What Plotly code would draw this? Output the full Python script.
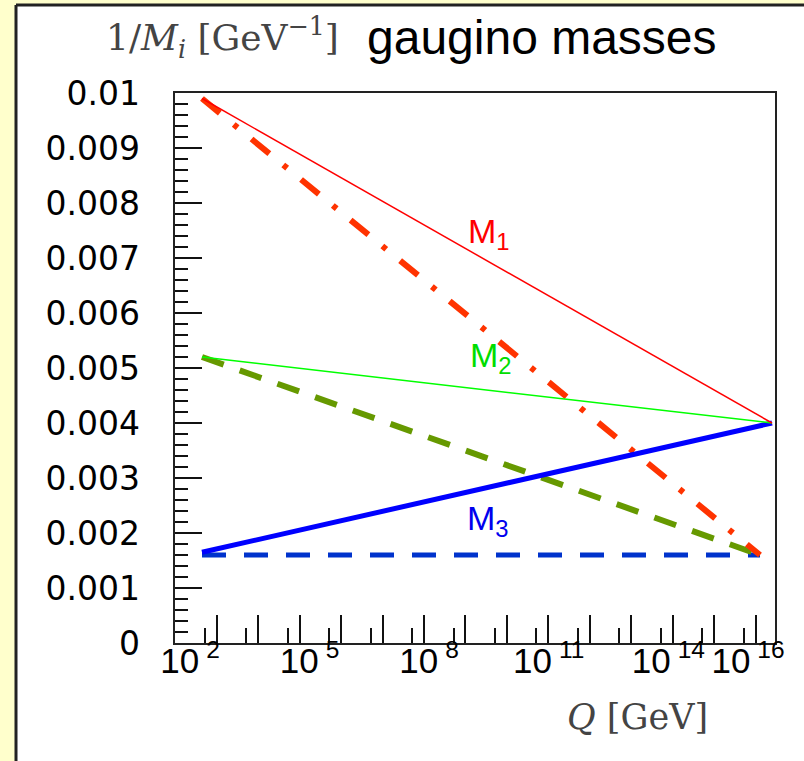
import plotly.graph_objects as go

# ---------------- data ----------------
# scale Q [GeV]
Q_low = 1e2
Q_gut = 2e16          # end of solid (universal) lines
Q_high = 1e16         # end of dashed lines

# solid lines: 1/M_i at low scale and at GUT scale
inv_M1_solid = [0.0099, 0.0040]
inv_M2_solid = [0.0052, 0.0040]
inv_M3_solid = [0.00165, 0.0040]

# dashed lines: 1/M_i at low scale and at 10^16
inv_M1_dash = [0.0099, 0.0016]
inv_M2_dash = [0.0052, 0.0016]
inv_M3_dash = [0.0016, 0.0016]

y_tick_vals = [0, 0.001, 0.002, 0.003, 0.004, 0.005, 0.006, 0.007, 0.008, 0.009, 0.01]
y_tick_text = ["0", "0.001", "0.002", "0.003", "0.004", "0.005",
               "0.006", "0.007", "0.008", "0.009", "0.01"]
x_label_exps = [2, 5, 8, 11, 14, 16]

# tick marks along the Q axis (log10 Q)
x_major_marks = [2.37 + 1.04 * k for k in range(14)]
x_minor_marks = [2.07 + 1.04 * k for k in range(14)]

x_solid = [Q_low, Q_gut]
x_dash = [Q_low, Q_high]

fig = go.Figure()

# dashed / dash-dot
fig.add_trace(go.Scatter(x=x_dash, y=inv_M3_dash, mode="lines",
                         line=dict(color="#0033CC", width=5, dash="24px,18px"),
                         showlegend=False))
fig.add_trace(go.Scatter(x=x_dash, y=inv_M2_dash, mode="lines",
                         line=dict(color="#669900", width=6, dash="23px,17px"),
                         showlegend=False))
fig.add_trace(go.Scatter(x=x_dash, y=inv_M1_dash, mode="lines",
                         line=dict(color="#FF3300", width=6, dash="23px,18px,5px,18px"),
                         showlegend=False))
# solid
fig.add_trace(go.Scatter(x=x_solid, y=inv_M3_solid, mode="lines",
                         line=dict(color="#0000FF", width=5), showlegend=False))
fig.add_trace(go.Scatter(x=x_solid, y=inv_M2_solid, mode="lines",
                         line=dict(color="#00FF00", width=1.5), showlegend=False))
fig.add_trace(go.Scatter(x=x_solid, y=inv_M1_solid, mode="lines",
                         line=dict(color="#FF0000", width=1.5), showlegend=False))
# empty trace holding the label axes
fig.add_trace(go.Scatter(x=[], y=[], xaxis="x2", yaxis="y2", showlegend=False))

# layout geometry (pixels)
W, H = 804, 761
ML, MR, MT, MB = 140, 29, 93, 118
PW = W - ML - MR          # paper width
PH = H - MT - MB          # paper height
FRAME_L = 175
dom0 = (FRAME_L - ML) / PW


def px(x):
    return (x - ML) / PW


def py(y):
    return (H - MB - y) / PH


L0, L1 = 1.3226, 16.376

fig.update_layout(
    width=W, height=H,
    margin=dict(l=ML, r=MR, t=MT, b=MB),
    paper_bgcolor="#FFFFCC",
    plot_bgcolor="rgba(0,0,0,0)",
    xaxis=dict(
        domain=[dom0, 1],
        type="log", range=[L0, L1], automargin=False,
        tickmode="array", tickvals=[10 ** v for v in x_major_marks],
        showticklabels=False,
        ticks="inside", ticklen=28, tickwidth=1.5, tickcolor="#111",
        minor=dict(ticks="inside", ticklen=15, tickwidth=1.5, tickcolor="#111",
                   tickmode="array", tickvals=[10 ** v for v in x_minor_marks]),
        showgrid=False, zeroline=False,
        showline=True, linewidth=2, linecolor="#222", mirror=True,
    ),
    xaxis2=dict(
        domain=[dom0, 1],
        type="log", range=[L0, L1], overlaying="x", side="bottom", anchor="y",
        automargin=False,
        tickmode="array", tickvals=[10 ** e for e in x_label_exps],
        ticktext=[f"10\u2009<sup>{e}</sup>" for e in x_label_exps],
        ticks="", showgrid=False, zeroline=False, showline=False,
        tickfont=dict(family="Liberation Sans", size=35, color="black"),
        ticklabelshift=-12, ticklabelstandoff=-6,
    ),
    yaxis=dict(
        range=[0, 0.01], automargin=False, anchor="x",
        tickmode="array", tickvals=y_tick_vals, showticklabels=False,
        ticks="inside", ticklen=27, tickwidth=1.5, tickcolor="#111",
        minor=dict(ticks="inside", ticklen=13, tickwidth=1.5, tickcolor="#111",
                   dtick=0.0002),
        showgrid=False, zeroline=False,
        showline=True, linewidth=2, linecolor="#222", mirror=True,
    ),
    yaxis2=dict(
        range=[0, 0.01], overlaying="y", side="left", anchor="free", position=0,
        automargin=False,
        tickmode="array", tickvals=y_tick_vals, ticktext=y_tick_text,
        ticks="", showgrid=False, zeroline=False, showline=False,
        tickfont=dict(family="DejaVu Sans", size=33, color="black"),
    ),
    shapes=[
        dict(type="rect", xref="paper", yref="paper",
             x0=px(16), x1=px(820), y0=py(780), y1=py(5),
             fillcolor="white", line=dict(width=0), layer="below"),
        dict(type="line", xref="paper", yref="paper",
             x0=px(16), x1=px(16), y0=py(780), y1=py(5),
             line=dict(color="#222", width=3), layer="below"),
        dict(type="line", xref="paper", yref="paper",
             x0=px(16), x1=px(820), y0=py(5), y1=py(5),
             line=dict(color="#222", width=3), layer="below"),
    ],
    annotations=[
        dict(text="1/<i>M<sub>i</sub></i> [GeV<sup>−1</sup>]", xref="paper", yref="paper",
             x=px(104), y=py(38), xanchor="left", yanchor="middle",
             showarrow=False, font=dict(family="DejaVu Serif", size=36, color="#444")),
        dict(text="gaugino masses", xref="paper", yref="paper",
             x=px(365), y=py(37), xanchor="left", yanchor="middle",
             showarrow=False, font=dict(family="Liberation Sans", size=48, color="black")),
        dict(text="<i>Q</i> [GeV]", xref="paper", yref="paper",
             x=px(637), y=py(717), xanchor="center", yanchor="middle",
             showarrow=False, font=dict(family="DejaVu Serif", size=35, color="#444")),
        dict(text="M<sub>1</sub>", x=8.62, y=0.00745, xref="x", yref="y",
             xanchor="left", yanchor="middle", showarrow=False,
             font=dict(family="Liberation Sans", size=34, color="#FF0000")),
        dict(text="M<sub>2</sub>", x=8.68, y=0.0052, xref="x", yref="y",
             xanchor="left", yanchor="middle", showarrow=False,
             font=dict(family="Liberation Sans", size=34, color="#00DD00")),
        dict(text="M<sub>3</sub>", x=8.6, y=0.00222, xref="x", yref="y",
             xanchor="left", yanchor="middle", showarrow=False,
             font=dict(family="Liberation Sans", size=34, color="#0000EE")),
    ],
)

fig.write_html(
    "out.html",
    config={"displayModeBar": False},
    post_script="document.body.style.margin='0';document.body.style.overflow='hidden';",
)
